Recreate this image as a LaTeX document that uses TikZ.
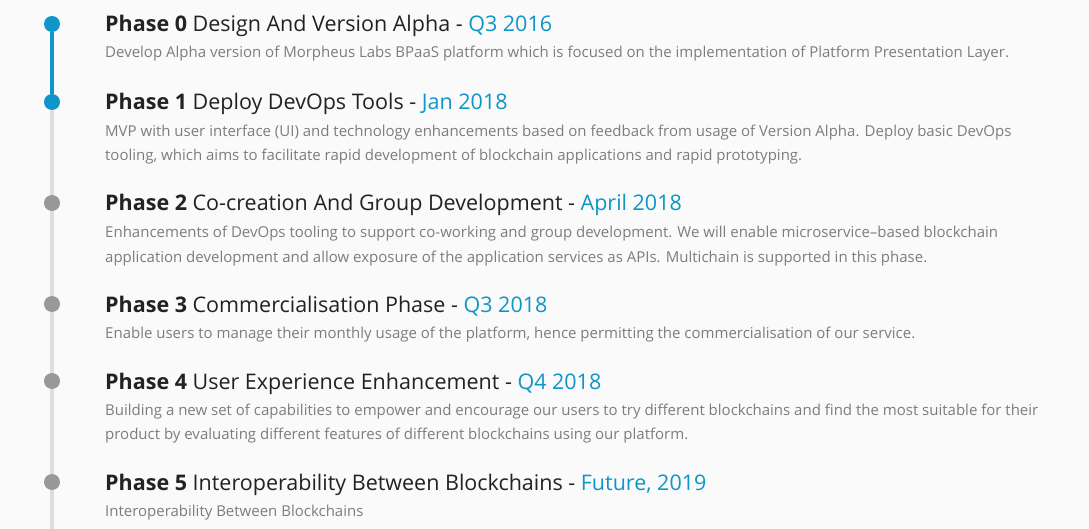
\documentclass[tikz,border=0pt]{standalone}
\usepackage{fontspec}
\setmainfont{Open Sans}
\usepackage{tikz}
\usetikzlibrary{positioning}

\definecolor{phaseblue}{RGB}{14,150,200}
\definecolor{dotgray}{RGB}{152,152,152}
\definecolor{linegray}{RGB}{221,221,221}
\definecolor{titlegray}{RGB}{34,34,34}
\definecolor{descgray}{RGB}{125,125,125}
\definecolor{pagegray}{RGB}{250,250,250}

\newcommand{\phasetitle}[3]{\textbf{Phase #1} #2 - \textcolor{phaseblue}{#3}}

\begin{document}
\begin{tikzpicture}[x=1pt, y=-1pt,
                dot/.style = {circle, inner sep=0pt, minimum size=16pt},
                done/.style = {dot, fill=phaseblue},
                todo/.style = {dot, fill=dotgray},
                title/.style = {anchor=base west, inner sep=0pt, text=titlegray,
                                font=\fontsize{21.5}{24}\selectfont},
                desc/.style = {anchor=base west, inner sep=0pt, text=descgray,
                               font=\fontsize{15}{24}\selectfont},
                next/.style = {yshift=-24pt}]
    \fill[pagegray] (0,0) rectangle (1089,529);
    \useasboundingbox (0,0) rectangle (1089,529);

    % timeline
    \node[done] (d0) at (52,24) {};
    \node[done] (d1) at (52,102) {};
    \node[todo] (d2) at (52,203) {};
    \node[todo] (d3) at (52,304) {};
    \node[todo] (d4) at (52,381) {};
    \node[todo] (d5) at (52,482) {};
    \coordinate (end) at (52,529);

    \draw[phaseblue, line width=4pt] (d0) -- (d1);
    \draw[linegray, line width=4pt] (d1) -- (d2) (d2) -- (d3) (d3) -- (d4)
        (d4) -- (d5) (d5) -- (end);

    % phases
    \node[title] (t0) at (105,32) {\phasetitle{0}{Design And Version Alpha}{Q3 2016}};
    \node[desc] (p0) at (105,58) {Develop Alpha version of Morpheus Labs BPaaS platform which is focused on the implementation of Platform Presentation Layer.};

    \node[title] (t1) at (105,110) {\phasetitle{1}{Deploy DevOps Tools}{Jan 2018}};
    \node[desc] (p1) at (105,137) {MVP with user interface (UI) and technology enhancements based on feedback from usage of Version Alpha. Deploy basic DevOps};
    \node[desc] (p1b) at ([next]p1.base west) {tooling, which aims to facilitate rapid development of blockchain applications and rapid prototyping.};

    \node[title] (t2) at (105,211) {\phasetitle{2}{Co-creation And Group Development}{April 2018}};
    \node[desc] (p2) at (105,238) {Enhancements of DevOps tooling to support co-working and group development. We will enable microservice--based blockchain};
    \node[desc] (p2b) at ([next]p2.base west) {application development and allow exposure of the application services as APIs. Multichain is supported in this phase.};

    \node[title] (t3) at (105,312) {\phasetitle{3}{Commercialisation Phase}{Q3 2018}};
    \node[desc] (p3) at (105,338) {Enable users to manage their monthly usage of the platform, hence permitting the commercialisation of our service.};

    \node[title] (t4) at (105,389) {\phasetitle{4}{User Experience Enhancement}{Q4 2018}};
    \node[desc] (p4) at (105,415) {Building a new set of capabilities to empower and encourage our users to try different blockchains and find the most suitable for their};
    \node[desc] (p4b) at ([next]p4.base west) {product by evaluating different features of different blockchains using our platform.};

    \node[title] (t5) at (105,490) {\phasetitle{5}{Interoperability Between Blockchains}{Future, 2019}};
    \node[desc] (p5) at (105,516) {Interoperability Between Blockchains};
\end{tikzpicture}
\end{document}
